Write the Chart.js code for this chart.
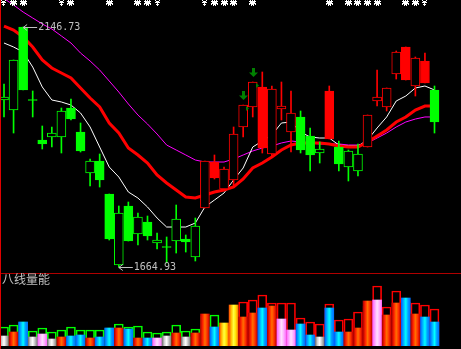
<!DOCTYPE html>
<html>
<head>
<meta charset="utf-8">
<script src="https://cdn.jsdelivr.net/npm/chart.js@4/dist/chart.umd.min.js"></script>
<style>
body { margin: 0; background: #000; width: 461px; height: 349px; overflow: hidden; position: relative; }
canvas { position: absolute; left: 0; }
#k { top: 0; }
#v { top: 274px; }
.hline { position: absolute; left: 0; top: 273px; width: 461px; height: 1px; background: #b00000; }
.vline { position: absolute; left: 0; top: 0; width: 1px; height: 349px; background: #e00000; }
.title { position: absolute; left: 2px; top: 273px; color: #c0c0c0; font: 12px "Noto Sans CJK SC"; line-height: 12px; }
</style>
</head>
<body>
<canvas id="k" width="461" height="273"></canvas>
<div class="hline"></div>
<canvas id="v" width="461" height="75"></canvas>
<div class="vline"></div>
<div class="title">八线量能</div>
<script>
// K-line data (46 bars)
const opens  = [2000.2,1980.1,2146.73,2001.2,1919.9,1925.9,1925.9,1984.1,1935.9,1853.6,1877.7,1811.5,1668.9,1787.4,1731.2,1755.3,1713.1,1706.1,1717.1,1721.1,1685.0,1783.4,1875.7,1821.5,1839.6,1946.0,1986.1,2026.3,1891.8,1982.1,1935.9,1966.1,1927.9,1893.8,2018.3,1905.8,1865.7,1857.7,1905.8,1998.2,1986.1,2052.4,2106.6,2028.3,2078.5,2020.3];
const closes = [2006.2,2080.5,2020.3,1999.2,1911.9,1933.9,1978.1,1962.0,1897.8,1877.7,1839.6,1721.1,1773.3,1717.1,1765.3,1727.2,1719.1,1704.1,1761.3,1715.1,1747.2,1877.7,1843.6,1861.7,1931.9,1990.1,2036.3,1903.8,2022.3,1988.1,1974.1,1899.8,1889.8,1901.8,1921.9,1871.7,1897.8,1891.8,1970.1,2006.2,2024.3,2096.5,2040.3,2084.5,2034.3,1956.0];
const highs  = [2032.3,2080.5,2146.73,2018.3,1948.0,1946.0,1984.1,2002.2,1954.0,1881.7,1891.8,1811.5,1787.4,1795.4,1773.3,1767.3,1733.2,1725.2,1789.4,1729.2,1763.3,1877.7,1889.8,1865.7,1946.0,1990.1,2036.3,2056.4,2028.3,2036.3,2018.3,1978.1,1944.0,1915.9,2028.3,1917.9,1899.8,1911.9,1970.1,2060.4,2024.3,2098.6,2106.6,2086.5,2094.5,2028.3];
const lows   = [1966.1,1933.9,2020.3,1966.1,1901.8,1905.8,1893.8,1960.0,1895.8,1827.5,1825.5,1719.1,1664.93,1717.1,1709.1,1719.1,1701.1,1673.0,1693.0,1695.0,1677.0,1783.4,1841.6,1819.5,1827.5,1925.9,1966.1,1893.8,1885.8,1960.0,1895.8,1893.8,1857.7,1873.7,1921.9,1857.7,1837.6,1847.6,1905.8,1988.1,1978.1,2042.3,2040.3,2008.2,2034.3,1933.9];
// 1 = red trend, 0 = green trend
const trend  = [0,0,0,0,0,0,0,0,0,0,0,0,0,0,0,0,0,0,0,0,0,1,1,1,1,1,1,1,1,1,1,0,0,0,1,0,0,0,1,1,1,1,1,1,1,0];

// moving averages
const maWhite   = [2114.6,2106.6,2096.5,2066.4,2026.3,2000.2,1996.2,1990.1,1974.1,1946.0,1905.8,1865.7,1845.6,1815.5,1803.4,1785.4,1763.3,1745.2,1745.2,1745.2,1753.3,1785.4,1799.4,1813.5,1839.6,1863.7,1905.8,1917.9,1929.9,1954.0,1956.0,1935.9,1925.9,1923.9,1923.9,1909.8,1907.8,1907.8,1919.9,1944.0,1966.1,1998.2,2008.2,2024.3,2028.3,2020.3];
const maRed     = [2148.7,2140.7,2126.7,2106.6,2080.5,2064.4,2054.4,2044.3,2024.3,2004.2,1986.1,1954.0,1933.9,1903.8,1889.8,1873.7,1849.6,1833.6,1819.5,1805.5,1803.4,1809.5,1815.5,1819.5,1825.5,1841.6,1863.7,1873.7,1885.8,1899.8,1909.8,1913.9,1913.9,1913.9,1911.9,1907.8,1905.8,1905.8,1915.9,1927.9,1940.0,1956.0,1966.1,1980.1,1988.1,1988.1];
const maMagenta = [2203.9,2190.9,2176.8,2164.8,2152.8,2142.7,2128.7,2114.6,2094.5,2078.5,2060.4,2038.3,2016.2,1992.2,1970.1,1952.0,1931.9,1909.8,1899.8,1889.8,1879.7,1875.7,1875.7,1875.7,1881.7,1889.8,1897.8,1903.8,1907.8,1913.9,1917.9,1915.9,1913.9,1911.9,1911.9,1911.9,1909.8,1909.8,1913.9,1923.9,1933.9,1946.0,1956.0,1962.0,1966.1,1966.1];

// volume panel
const volBox  = [19,21,24,15,18,14,16,19,16,16,16,18,22,19,20,14,13,14,21,15,17,30,31,20,36,44,46,51,43,43,43,28,24,22,42,26,27,34,40,60,39,55,44,43,41,37];
const volFill = [10,14,24,9,12,7,9,10,11,8,9,18,18,17,8,8,8,10,13,9,13,32,19,23,41,29,33,38,40,27,16,22,11,9,38,14,14,18,45,46,31,43,48,32,29,24];
const volKind = ['w','r','b','w','p','w','r','b','b','r','b','b','r','b','r','b','p','w','r','w','r','r','b','y','y','r','r','b','r','p','p','b','b','w','b','b','r','r','r','p','r','r','b','r','b','b'];
const volSide = [0,0,0,0,0,0,0,0,0,0,0,0,0,0,0,0,0,0,0,0,0,0,0,1,1,1,1,1,1,1,1,1,1,1,1,1,1,1,1,1,1,1,1,1,1,1];

// marks
const wideMarks   = [1,2,7,11,14,15,22,23,24,26,34,36,37,38,39,42,43];
const narrowMarks = [0,6,16,21,44];
const signalMarks = [25,26];

const RED = '#ff0000', GREEN = '#00ff00';
const colorOf = i => trend[i] ? RED : GREEN;
const idx = closes.map((_, i) => i);
const xRange = () => ({ type: 'linear', min: -0.418, max: 47.77, offset: false, display: false });

const WIDE = [
  '.X.X.X.',
  'XXXXXXX',
  '.XXXXX.',
  'XXXXXXX',
  'X.XXX.X',
  '..X.X..'
];
const NARROW = [
  'X...X',
  '.XXX.',
  'XXXXX',
  '..X..',
  '.XXX.',
  '..X..'
];

const overlay = {
  id: 'overlay',
  afterDatasetsDraw(chart) {
    const { ctx, scales: { x, y } } = chart;
    ctx.save();

    // white sprites along the top
    ctx.fillStyle = '#ffffff';
    const sprite = (rows, cx) => {
      const w = rows[0].length;
      const left = Math.round(cx - w / 2);
      rows.forEach((r, j) => {
        for (let k = 0; k < w; k++) if (r[k] === 'X') ctx.fillRect(left + k, j, 1, 1);
      });
    };
    wideMarks.forEach(i => sprite(WIDE, x.getPixelForValue(i)));
    narrowMarks.forEach(i => sprite(NARROW, x.getPixelForValue(i)));

    // green down arrows + flags
    ctx.fillStyle = '#008000';
    signalMarks.forEach(i => {
      const cx = Math.round(x.getPixelForValue(i));
      const tip = Math.round(y.getPixelForValue(highs[i])) - 5;
      ctx.fillRect(cx - 1, tip - 9, 3, 5);
      ctx.beginPath();
      ctx.moveTo(cx - 4, tip - 4.5);
      ctx.lineTo(cx + 5, tip - 4.5);
      ctx.lineTo(cx + 0.5, tip);
      ctx.closePath();
      ctx.fill();
      const top = Math.round(y.getPixelForValue(Math.max(opens[i], closes[i])));
      ctx.beginPath();
      ctx.moveTo(cx + 3, top + 1);
      ctx.lineTo(cx + 6, top + 3.5);
      ctx.lineTo(cx + 3, top + 6);
      ctx.closePath();
      ctx.fill();
    });

    // high / low tags
    const hiI = highs.indexOf(Math.max(...highs));
    const loI = lows.indexOf(Math.min(...lows));
    const tag = (i, v) => {
      const cx = x.getPixelForValue(i);
      const py = Math.round(y.getPixelForValue(v)) + 0.5;
      ctx.strokeStyle = '#c0c0c0';
      ctx.lineWidth = 1;
      ctx.beginPath();
      ctx.moveTo(cx, py); ctx.lineTo(cx + 14, py);
      ctx.moveTo(cx + 4, py - 3); ctx.lineTo(cx, py); ctx.lineTo(cx + 4, py + 3);
      ctx.stroke();
      ctx.fillStyle = '#c0c0c0';
      ctx.font = '10px "DejaVu Sans Mono"';
      ctx.textBaseline = 'middle';
      ctx.fillText(v.toFixed(2), cx + 15, py);
    };
    tag(hiI, highs[hiI]);
    tag(loI, lows[loI]);
    ctx.restore();
  }
};

new Chart(document.getElementById('k'), {
  type: 'bar',
  data: {
    datasets: [
      { type: 'line', data: maWhite.map((v, i) => ({ x: i, y: v })), borderColor: '#ffffff', borderWidth: 1, pointRadius: 0, order: 6 },
      { type: 'line', data: maMagenta.map((v, i) => ({ x: i, y: v })), borderColor: '#ff00ff', borderWidth: 1, pointRadius: 0, order: 7 },
      { type: 'line', data: maRed.map((v, i) => ({ x: i, y: v })), borderColor: '#ff0000', borderWidth: 3, pointRadius: 0, order: 5 },
      {
        data: idx.map(i => ({ x: i, y: [lows[i], highs[i]] })),
        backgroundColor: c => colorOf(c.dataIndex),
        barThickness: 1, grouped: false, order: 3
      },
      {
        data: idx.map(i => ({ x: i, y: [opens[i], closes[i]] })),
        backgroundColor: c => closes[c.dataIndex] < opens[c.dataIndex] ? colorOf(c.dataIndex) : '#000000',
        borderColor: c => colorOf(c.dataIndex),
        borderWidth: 1, borderSkipped: false,
        barThickness: 9, grouped: false, order: 2
      }
    ]
  },
  options: {
    responsive: false,
    animation: false,
    devicePixelRatio: 1,
    layout: { padding: 0 },
    plugins: { legend: { display: false }, tooltip: { enabled: false } },
    scales: {
      x: xRange(),
      y: { min: 1652.9, max: 2200.93, display: false }
    }
  },
  plugins: [overlay]
});

// cylinder-like gradients for the volume bars
const kindStops = {
  w: ['#707070', '#d0d0d0', '#ffffff', '#c0c0c0', '#808080'],
  r: ['#b00000', '#ff2000', '#ff7000', '#ff3000', '#c00000'],
  b: ['#0060ff', '#00b0ff', '#00ffff', '#00a0ff', '#0070ff'],
  p: ['#ff60ff', '#ffa0ff', '#ffe0ff', '#ffb0ff', '#ff70ff'],
  y: ['#ff5000', '#ffc000', '#ffff40', '#ffe000', '#ff7000']
};
function volGradient(c) {
  const chart = c.chart;
  const xs = chart.scales.x;
  const stops = kindStops[volKind[c.dataIndex]] || kindStops.w;
  if (!xs || c.dataIndex === undefined) return stops[2];
  const cx = xs.getPixelForValue(c.dataIndex);
  if (!isFinite(cx)) return stops[2];
  const g = chart.ctx.createLinearGradient(cx - 4.5, 0, cx + 4.5, 0);
  stops.forEach((s, k) => g.addColorStop(k / (stops.length - 1), s));
  return g;
}

new Chart(document.getElementById('v'), {
  type: 'bar',
  data: {
    datasets: [
      {
        data: volBox.map((v, i) => ({ x: i, y: v })),
        backgroundColor: 'rgba(0,0,0,0)',
        borderColor: c => volSide[c.dataIndex] ? RED : GREEN,
        borderWidth: 1, borderSkipped: false,
        barThickness: 9, grouped: false, order: 2
      },
      {
        data: volFill.map((v, i) => ({ x: i, y: v })),
        backgroundColor: volGradient,
        borderWidth: 0,
        barThickness: 9, grouped: false, order: 1
      }
    ]
  },
  options: {
    responsive: false,
    animation: false,
    devicePixelRatio: 1,
    layout: { padding: { bottom: 3 } },
    plugins: { legend: { display: false }, tooltip: { enabled: false } },
    scales: {
      x: xRange(),
      y: { min: 0, max: 72, display: false }
    }
  }
});
</script>
</body>
</html>
